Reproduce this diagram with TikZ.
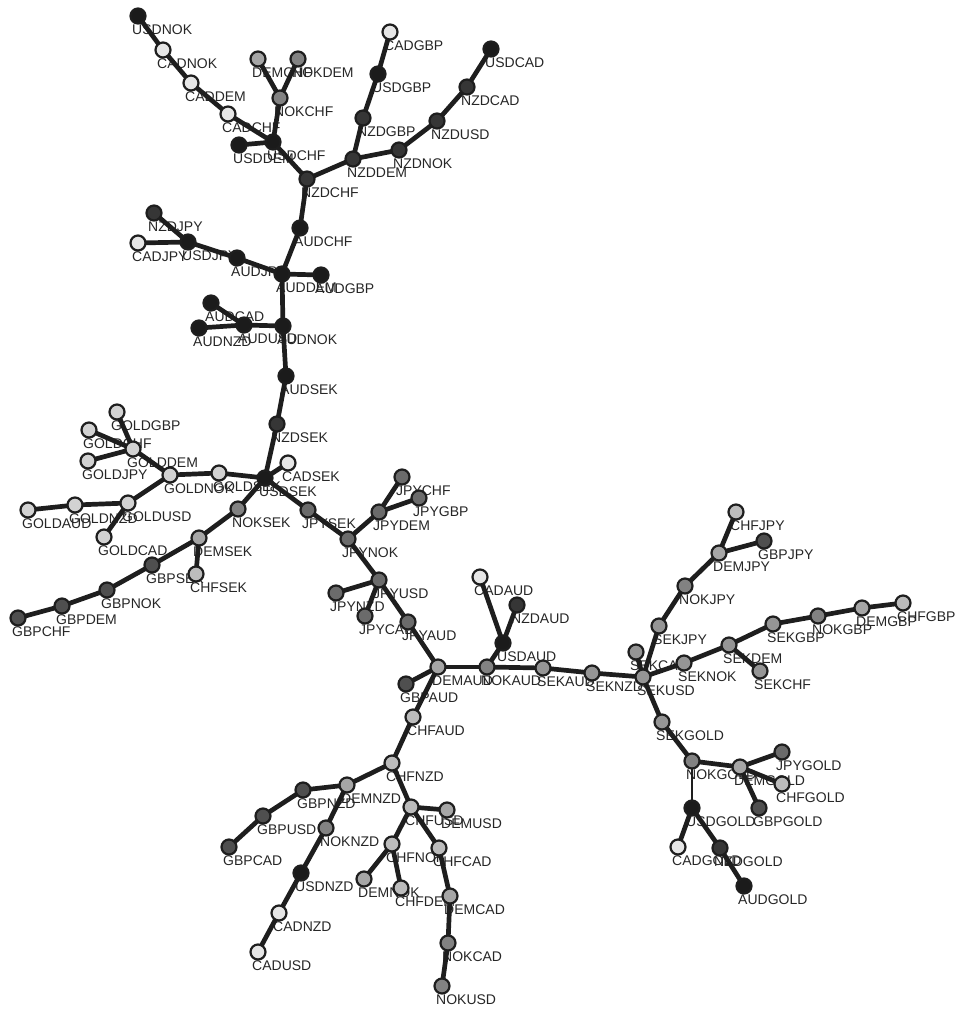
\documentclass[tikz,border=0pt]{standalone}
\usepackage{fontspec}
\setmainfont{Liberation Sans}
\pgfdeclarelayer{lab}
\pgfdeclarelayer{edg}
\pgfsetlayers{lab,edg,main}
\definecolor{cusd}{HTML}{1B1B1B}
\definecolor{caud}{HTML}{1B1B1B}
\definecolor{cnzd}{HTML}{363636}
\definecolor{cgbp}{HTML}{4F4F4F}
\definecolor{cjpy}{HTML}{6B6B6B}
\definecolor{cnok}{HTML}{828282}
\definecolor{csek}{HTML}{959595}
\definecolor{cdem}{HTML}{A6A6A6}
\definecolor{cchf}{HTML}{BCBCBC}
\definecolor{cgold}{HTML}{D2D2D2}
\definecolor{ccad}{HTML}{E6E6E6}
\definecolor{edgecol}{HTML}{1E1E1E}
\definecolor{labcol}{HTML}{262626}
\tikzset{
  pair/.style={circle, draw=edgecol, line width=2.2pt, minimum size=15pt, inner sep=0pt},
  lbl/.style={anchor=base west, inner sep=0pt, text=labcol, font=\fontsize{14}{14}\selectfont},
  edge/.style={draw=edgecol, line width=4.7pt},
  thinedge/.style={draw=edgecol, line width=2.8pt}
}
\newcommand\pn[4]{%
  \node[pair, fill=c#4] (#1) at (#2,#3) {};
  \begin{pgfonlayer}{lab}\node[lbl] (#1-l) at ({#2-6},{#3+18.5}) {#1};\end{pgfonlayer}%
}
\begin{document}
\begin{tikzpicture}[x=1pt,y=-1pt]
\path[use as bounding box] (0,0) rectangle (959,1009);
\pn{USDNOK}{138}{16}{usd}
\pn{CADNOK}{163}{50}{cad}
\pn{CADDEM}{191}{83}{cad}
\pn{CADCHF}{228}{114}{cad}
\pn{USDCHF}{273}{142}{usd}
\pn{USDDEM}{239}{145}{usd}
\pn{NOKCHF}{280}{98}{nok}
\pn{DEMCHF}{258}{59}{dem}
\pn{NOKDEM}{298}{59}{nok}
\pn{NZDCHF}{307}{179}{nzd}
\pn{CADGBP}{390}{32}{cad}
\pn{USDGBP}{378}{74}{usd}
\pn{NZDGBP}{363}{118}{nzd}
\pn{NZDDEM}{353}{159}{nzd}
\pn{NZDNOK}{399}{150}{nzd}
\pn{NZDUSD}{437}{121}{nzd}
\pn{NZDCAD}{467}{87}{nzd}
\pn{USDCAD}{491}{49}{usd}
\pn{AUDCHF}{300}{228}{aud}
\pn{NZDJPY}{154}{213}{nzd}
\pn{CADJPY}{138}{243}{cad}
\pn{USDJPY}{188}{242}{usd}
\pn{AUDJPY}{237}{258}{aud}
\pn{AUDDEM}{282}{274}{aud}
\pn{AUDGBP}{321}{275}{aud}
\pn{AUDCAD}{211}{303}{aud}
\pn{AUDNZD}{199}{328}{aud}
\pn{AUDUSD}{244}{325}{aud}
\pn{AUDNOK}{283}{326}{aud}
\pn{AUDSEK}{286}{376}{aud}
\pn{NZDSEK}{277}{424}{nzd}
\pn{GOLDSEK}{219}{473}{gold}
\pn{USDSEK}{265}{478}{usd}
\pn{CADSEK}{288}{463}{cad}
\pn{GOLDNOK}{170}{475}{gold}
\pn{GOLDDEM}{133}{449}{gold}
\pn{GOLDGBP}{117}{412}{gold}
\pn{GOLDCHF}{89}{430}{gold}
\pn{GOLDJPY}{88}{461}{gold}
\pn{GOLDUSD}{128}{503}{gold}
\pn{GOLDNZD}{75}{505}{gold}
\pn{GOLDAUD}{28}{510}{gold}
\pn{GOLDCAD}{104}{537}{gold}
\pn{NOKSEK}{238}{509}{nok}
\pn{DEMSEK}{199}{538}{dem}
\pn{CHFSEK}{196}{574}{chf}
\pn{GBPSEK}{152}{565}{gbp}
\pn{GBPNOK}{107}{590}{gbp}
\pn{GBPDEM}{62}{606}{gbp}
\pn{GBPCHF}{18}{618}{gbp}
\pn{JPYSEK}{308}{510}{jpy}
\pn{JPYNOK}{348}{539}{jpy}
\pn{JPYDEM}{379}{512}{jpy}
\pn{JPYCHF}{402}{477}{jpy}
\pn{JPYGBP}{419}{498}{jpy}
\pn{JPYUSD}{379}{580}{jpy}
\pn{JPYNZD}{336}{593}{jpy}
\pn{JPYCAD}{365}{616}{jpy}
\pn{JPYAUD}{408}{622}{jpy}
\pn{DEMAUD}{438}{667}{dem}
\pn{NOKAUD}{487}{667}{nok}
\pn{USDAUD}{503}{643}{usd}
\pn{CADAUD}{480}{577}{cad}
\pn{NZDAUD}{517}{605}{nzd}
\pn{SEKAUD}{543}{668}{sek}
\pn{GBPAUD}{406}{684}{gbp}
\pn{SEKNZD}{592}{673}{sek}
\pn{SEKCAD}{636}{652}{sek}
\pn{SEKUSD}{643}{677}{sek}
\pn{SEKNOK}{684}{663}{sek}
\pn{SEKJPY}{659}{626}{sek}
\pn{NOKJPY}{685}{586}{nok}
\pn{DEMJPY}{719}{553}{dem}
\pn{CHFJPY}{736}{512}{chf}
\pn{GBPJPY}{764}{541}{gbp}
\pn{SEKDEM}{729}{645}{sek}
\pn{SEKCHF}{760}{671}{sek}
\pn{SEKGBP}{773}{624}{sek}
\pn{NOKGBP}{818}{616}{nok}
\pn{DEMGBP}{862}{608}{dem}
\pn{CHFGBP}{903}{603}{chf}
\pn{SEKGOLD}{662}{722}{sek}
\pn{NOKGOLD}{692}{761}{nok}
\pn{DEMGOLD}{740}{767}{dem}
\pn{JPYGOLD}{782}{752}{jpy}
\pn{CHFGOLD}{782}{784}{chf}
\pn{GBPGOLD}{759}{808}{gbp}
\pn{USDGOLD}{692}{808}{usd}
\pn{CADGOLD}{678}{847}{cad}
\pn{NZDGOLD}{720}{848}{nzd}
\pn{AUDGOLD}{744}{886}{aud}
\pn{CHFAUD}{413}{717}{chf}
\pn{CHFNZD}{392}{763}{chf}
\pn{DEMNZD}{347}{785}{dem}
\pn{GBPNZD}{303}{790}{gbp}
\pn{GBPUSD}{263}{816}{gbp}
\pn{GBPCAD}{229}{847}{gbp}
\pn{NOKNZD}{326}{828}{nok}
\pn{USDNZD}{301}{873}{usd}
\pn{CADNZD}{279}{913}{cad}
\pn{CADUSD}{258}{952}{cad}
\pn{CHFUSD}{411}{807}{chf}
\pn{DEMUSD}{447}{810}{dem}
\pn{CHFNOK}{392}{844}{chf}
\pn{CHFCAD}{439}{848}{chf}
\pn{DEMNOK}{364}{879}{dem}
\pn{CHFDEM}{401}{888}{chf}
\pn{DEMCAD}{450}{896}{dem}
\pn{NOKCAD}{448}{943}{nok}
\pn{NOKUSD}{442}{986}{nok}
\begin{pgfonlayer}{edg}
\foreach \a/\b in {USDNOK/CADNOK, CADNOK/CADDEM, CADDEM/CADCHF, CADCHF/USDCHF,
  USDCHF/USDDEM, USDCHF/NOKCHF, NOKCHF/DEMCHF, NOKCHF/NOKDEM, USDCHF/NZDCHF,
  NZDCHF/NZDDEM, NZDDEM/NZDGBP, NZDGBP/USDGBP, USDGBP/CADGBP,
  NZDDEM/NZDNOK, NZDNOK/NZDUSD, NZDUSD/NZDCAD, NZDCAD/USDCAD,
  NZDCHF/AUDCHF, AUDCHF/AUDDEM, AUDDEM/AUDGBP, AUDDEM/AUDJPY, AUDJPY/USDJPY,
  USDJPY/NZDJPY, USDJPY/CADJPY, AUDDEM/AUDNOK, AUDNOK/AUDUSD, AUDUSD/AUDCAD,
  AUDUSD/AUDNZD, AUDNOK/AUDSEK, AUDSEK/NZDSEK, NZDSEK/USDSEK,
  USDSEK/CADSEK, USDSEK/GOLDSEK, USDSEK/NOKSEK, USDSEK/JPYSEK,
  GOLDSEK/GOLDNOK, GOLDNOK/GOLDDEM, GOLDDEM/GOLDGBP, GOLDDEM/GOLDCHF, GOLDDEM/GOLDJPY,
  GOLDNOK/GOLDUSD, GOLDUSD/GOLDNZD, GOLDNZD/GOLDAUD, GOLDUSD/GOLDCAD,
  NOKSEK/DEMSEK, DEMSEK/CHFSEK, DEMSEK/GBPSEK, GBPSEK/GBPNOK, GBPNOK/GBPDEM, GBPDEM/GBPCHF,
  JPYSEK/JPYNOK, JPYNOK/JPYDEM, JPYDEM/JPYCHF, JPYDEM/JPYGBP, JPYNOK/JPYUSD,
  JPYUSD/JPYNZD, JPYUSD/JPYCAD, JPYUSD/JPYAUD, JPYAUD/DEMAUD,
  DEMAUD/GBPAUD, DEMAUD/CHFAUD, DEMAUD/NOKAUD, NOKAUD/USDAUD, USDAUD/CADAUD,
  USDAUD/NZDAUD, NOKAUD/SEKAUD, SEKAUD/SEKNZD, SEKNZD/SEKUSD,
  SEKUSD/SEKCAD, SEKUSD/SEKJPY, SEKJPY/NOKJPY, NOKJPY/DEMJPY, DEMJPY/CHFJPY, DEMJPY/GBPJPY,
  SEKUSD/SEKNOK, SEKNOK/SEKDEM, SEKDEM/SEKCHF, SEKDEM/SEKGBP, SEKGBP/NOKGBP,
  NOKGBP/DEMGBP, DEMGBP/CHFGBP, SEKUSD/SEKGOLD, SEKGOLD/NOKGOLD, NOKGOLD/DEMGOLD,
  DEMGOLD/JPYGOLD, DEMGOLD/CHFGOLD, DEMGOLD/GBPGOLD, USDGOLD/CADGOLD,
  USDGOLD/NZDGOLD, NZDGOLD/AUDGOLD,
  CHFAUD/CHFNZD, CHFNZD/DEMNZD, DEMNZD/GBPNZD, GBPNZD/GBPUSD, GBPUSD/GBPCAD,
  DEMNZD/NOKNZD, NOKNZD/USDNZD, USDNZD/CADNZD, CADNZD/CADUSD,
  CHFNZD/CHFUSD, CHFUSD/DEMUSD, CHFUSD/CHFNOK, CHFNOK/DEMNOK, CHFNOK/CHFDEM,
  CHFUSD/CHFCAD, CHFCAD/DEMCAD, DEMCAD/NOKCAD, NOKCAD/NOKUSD}
  \draw[edge] (\a.center) -- (\b.center);
\draw[thinedge] (NOKGOLD.center) -- (USDGOLD.center);
\end{pgfonlayer}
\end{tikzpicture}
\end{document}
